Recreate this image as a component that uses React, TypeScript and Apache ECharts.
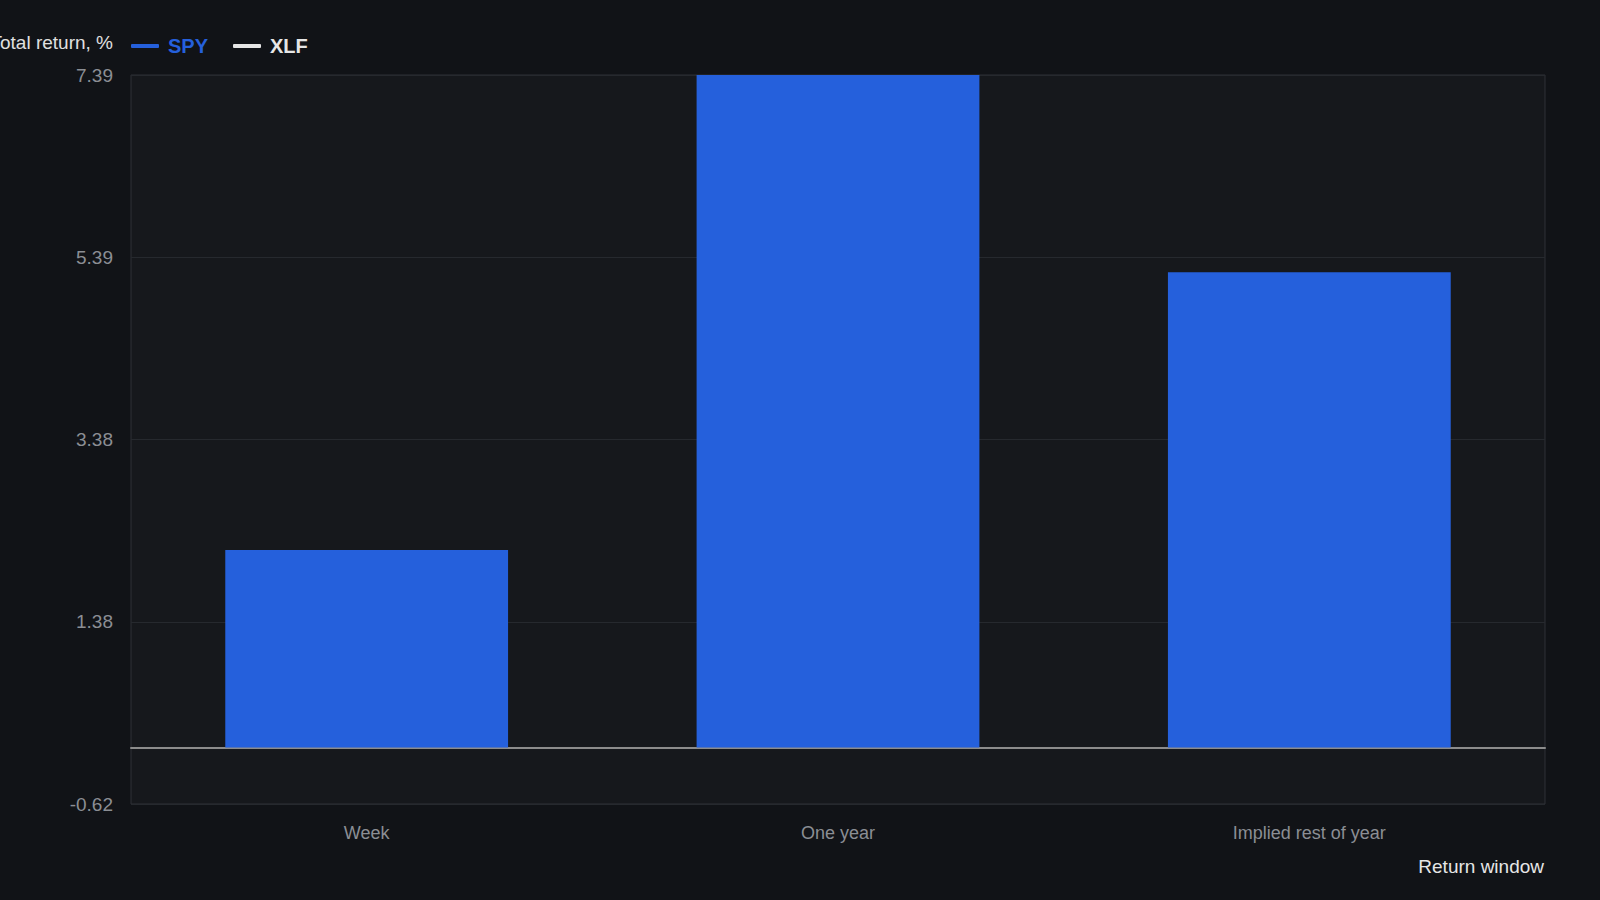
import { useRef, useEffect } from 'react'
import * as echarts from 'echarts'

// ── data ─────────────────────────────────────────
const CATEGORIES = ['Week', 'One year', 'Implied rest of year']
const SPY_VALUES = [2.17, 7.388, 5.22]
const XLF_VALUES: (number | null)[] = [null, null, null]

// y axis: ticks run from -0.62 in steps of 2.002 (labels 1.38 … 7.39)
const Y_MIN = -0.62
const Y_STEP = 2.002
const Y_STEPS = 4

const FONT = 'Liberation Sans, Arial, Helvetica, sans-serif'
const BG = '#111317'
const PLOT_BG = '#16181c'
const BLUE = '#2560dc'

function buildOption() {
  return {
    animation: false,
    backgroundColor: BG,
    textStyle: { fontFamily: FONT },
    legend: {
      left: 126,
      top: 31,
      itemWidth: 28,
      itemHeight: 4,
      itemGap: 25,
      icon: 'roundRect',
      data: [
        { name: 'SPY', textStyle: { color: BLUE } },
        { name: 'XLF', textStyle: { color: '#e6e6e6' } },
      ],
      textStyle: { fontSize: 20, fontWeight: 'bold', fontFamily: FONT, padding: [0, 0, 0, 4] },
    },
    grid: {
      left: 131,
      right: 55,
      top: 75,
      bottom: 96,
      show: true,
      backgroundColor: PLOT_BG,
      borderColor: '#2e3136',
      borderWidth: 1,
      containLabel: false,
    },
    xAxis: {
      type: 'category',
      data: CATEGORIES,
      axisTick: { show: false },
      axisLine: { show: true, onZero: true, lineStyle: { color: '#8c8c8c', width: 2 } },
      axisLabel: { color: '#8b8e94', fontSize: 18, margin: 20, fontFamily: FONT },
      splitLine: { show: false },
    },
    yAxis: [
      {
        type: 'value',
        min: Y_MIN,
        max: Y_MIN + Y_STEP * Y_STEPS,
        axisLabel: { show: false },
        axisLine: { show: false },
        axisTick: { show: false },
        splitLine: { show: false },
      },
      {
        type: 'value',
        position: 'left',
        min: 0,
        max: Y_STEPS,
        interval: 1,
        axisLine: { show: false },
        axisTick: { show: false },
        splitLine: { show: true, lineStyle: { color: '#26292e', width: 1 } },
        axisLabel: {
          color: '#8b8e94',
          fontSize: 19,
          margin: 18,
          fontFamily: FONT,
          formatter: (v: number) => (Y_MIN + v * Y_STEP).toFixed(2),
        },
      },
    ],
    graphic: [
      {
        type: 'text',
        right: 1600 - 113,
        top: 33,
        style: { text: 'Total return, %', fill: '#e0e0e0', fontSize: 19, fontFamily: FONT },
      },
      {
        type: 'text',
        right: 56,
        top: 857,
        style: { text: 'Return window', fill: '#e6e6e6', fontSize: 19, fontFamily: FONT },
      },
    ],
    series: [
      {
        name: 'SPY',
        type: 'bar',
        yAxisIndex: 0,
        data: SPY_VALUES,
        barWidth: '60%',
        barGap: '0%',
        itemStyle: { color: BLUE },
        z: 1,
      },
      {
        name: 'XLF',
        type: 'line',
        yAxisIndex: 0,
        data: XLF_VALUES,
        itemStyle: { color: '#e6e6e6' },
        lineStyle: { color: '#e6e6e6' },
        showSymbol: false,
      },
    ],
  }
}

export default function App() {
  const ref = useRef<HTMLDivElement>(null)

  useEffect(() => {
    document.body.style.margin = '0'
    document.body.style.background = BG
    if (!ref.current) return
    const chart = echarts.init(ref.current, null, { renderer: 'svg' })
    chart.setOption(buildOption())
    return () => chart.dispose()
  }, [])

  return <div ref={ref} style={{ width: '1600px', height: '900px' }} />
}
